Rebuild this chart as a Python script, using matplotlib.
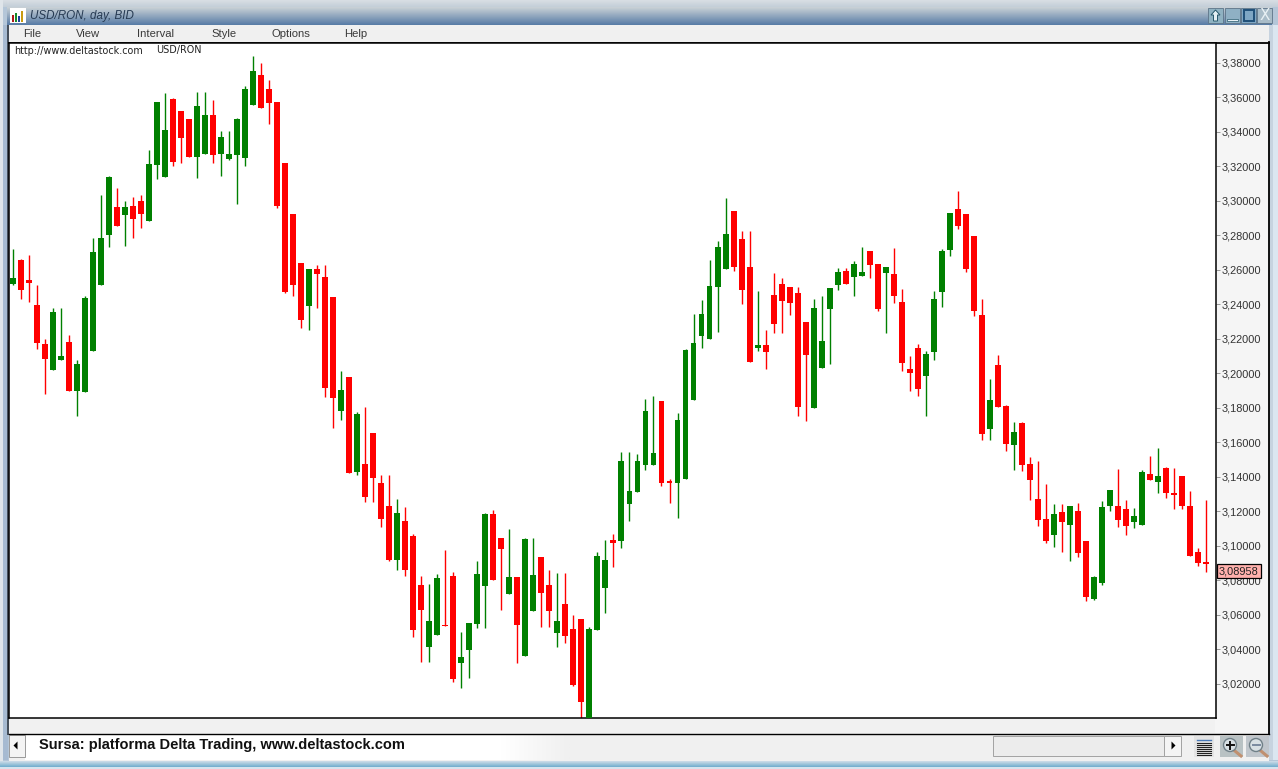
import numpy as np
import matplotlib
matplotlib.use("Agg")
import matplotlib.pyplot as plt
from matplotlib.patches import Rectangle, Polygon, Circle

# USD/RON daily candles
opens = [
    3.2517, 3.2656, 3.2540, 3.2395, 3.2169, 3.2019, 3.2077, 3.2181, 3.1897, 3.1891,
    3.2129, 3.2511, 3.2801, 3.2963, 3.2917, 3.2969, 3.2998, 3.2882, 3.3206, 3.3137,
    3.3589, 3.3519, 3.3473, 3.3253, 3.3270, 3.3496, 3.3270, 3.3241, 3.3264, 3.3247,
    3.3554, 3.3728, 3.3647, 3.3571, 3.3218, 3.2922, 3.2639, 3.2390, 3.2604, 3.2558,
    3.2442, 3.1781, 3.1978, 3.1428, 3.1474, 3.1654, 3.1364, 3.1231, 3.0918, 3.1144,
    3.1057, 3.0773, 3.0414, 3.0484, 3.0542, 3.0826, 3.0322, 3.0397, 3.0548, 3.0768,
    3.1185, 3.1046, 3.0721, 3.0820, 3.0362, 3.0623, 3.0936, 3.0773, 3.0495, 3.0663,
    3.0519, 3.0576, 2.9986, 3.0513, 3.0756, 3.1034, 3.1028, 3.1243, 3.1312, 3.1469,
    3.1469, 3.1839, 3.1376, 3.1364, 3.1387, 3.1845, 3.2216, 3.2198, 3.2500, 3.2604,
    3.2940, 3.2778, 3.2615, 3.2146, 3.2164, 3.2453, 3.2517, 3.2500, 3.2465, 3.2297,
    3.1799, 3.2030, 3.2372, 3.2511, 3.2592, 3.2558, 3.2563, 3.2708, 3.2633, 3.2581,
    3.2575, 3.2413, 3.2025, 3.2146, 3.1984, 3.2123, 3.2471, 3.2714, 3.2951, 3.2922,
    3.2795, 3.2337, 3.1677, 3.2048, 3.1810, 3.1584, 3.1712, 3.1474, 3.1272, 3.1156,
    3.1063, 3.1196, 3.1121, 3.1202, 3.1028, 3.0692, 3.0785, 3.1231, 3.1231, 3.1214,
    3.1138, 3.1121, 3.1416, 3.1370, 3.1451, 3.1306, 3.1405, 3.1231, 3.0965, 3.0907,
]
highs = [
    3.2720, 3.2662, 3.2685, 3.2511, 3.2198, 3.2378, 3.2378, 3.2222, 3.2077, 3.2447,
    3.2783, 3.3033, 3.3140, 3.3073, 3.2998, 3.3021, 3.3033, 3.3293, 3.3571, 3.3623,
    3.3595, 3.3519, 3.3473, 3.3629, 3.3629, 3.3583, 3.3403, 3.3403, 3.3479, 3.3664,
    3.3838, 3.3797, 3.3699, 3.3571, 3.3218, 3.2922, 3.2639, 3.2604, 3.2627, 3.2627,
    3.2442, 3.2013, 3.1978, 3.1776, 3.1804, 3.1654, 3.1411, 3.1411, 3.1272, 3.1225,
    3.1069, 3.0826, 3.0779, 3.0837, 3.0976, 3.0849, 3.0501, 3.0553, 3.0912, 3.1191,
    3.1208, 3.1046, 3.1098, 3.0820, 3.1046, 3.1046, 3.0936, 3.0860, 3.0843, 3.0843,
    3.0600, 3.0576, 3.0530, 3.0965, 3.1034, 3.1069, 3.1544, 3.1544, 3.1532, 3.1851,
    3.1868, 3.1839, 3.1387, 3.1770, 3.2140, 3.2343, 3.2424, 3.2656, 3.2766, 3.3015,
    3.2940, 3.2824, 3.2824, 3.2476, 3.2251, 3.2581, 3.2552, 3.2500, 3.2500, 3.2297,
    3.2430, 3.2447, 3.2494, 3.2610, 3.2610, 3.2650, 3.2731, 3.2708, 3.2633, 3.2615,
    3.2725, 3.2488, 3.2100, 3.2169, 3.2129, 3.2476, 3.2720, 3.2928, 3.3056, 3.2922,
    3.2795, 3.2430, 3.1967, 3.2106, 3.1816, 3.1718, 3.1718, 3.1515, 3.1492, 3.1358,
    3.1243, 3.1243, 3.1231, 3.1249, 3.1028, 3.0826, 3.1260, 3.1324, 3.1445, 3.1266,
    3.1220, 3.1440, 3.1521, 3.1567, 3.1457, 3.1451, 3.1405, 3.1318, 3.0988, 3.1266,
]
lows = [
    3.2511, 3.2430, 3.2413, 3.2140, 3.1880, 3.2019, 3.2077, 3.1897, 3.1752, 3.1891,
    3.2129, 3.2511, 3.2731, 3.2853, 3.2737, 3.2783, 3.2841, 3.2882, 3.3125, 3.3137,
    3.3200, 3.3218, 3.3253, 3.3131, 3.3270, 3.3218, 3.3143, 3.3235, 3.2980, 3.3200,
    3.3554, 3.3536, 3.3444, 3.2957, 3.2465, 3.2447, 3.2262, 3.2251, 3.2378, 3.1862,
    3.1683, 3.1729, 3.1422, 3.1411, 3.1254, 3.1254, 3.1109, 3.0912, 3.0860, 3.0826,
    3.0472, 3.0327, 3.0327, 3.0484, 3.0536, 3.0212, 3.0177, 3.0235, 3.0524, 3.0524,
    3.0802, 3.0629, 3.0721, 3.0322, 3.0362, 3.0623, 3.0530, 3.0530, 3.0414, 3.0437,
    3.0188, 2.9986, 2.9986, 3.0513, 3.0611, 3.0878, 3.0988, 3.1144, 3.1312, 3.1440,
    3.1469, 3.1347, 3.1249, 3.1162, 3.1387, 3.1845, 3.2146, 3.2198, 3.2239, 3.2604,
    3.2592, 3.2401, 3.2065, 3.2129, 3.2025, 3.2233, 3.2233, 3.2337, 3.1752, 3.1723,
    3.1799, 3.2030, 3.2054, 3.2482, 3.2517, 3.2447, 3.2563, 3.2552, 3.2361, 3.2233,
    3.2407, 3.2013, 3.1897, 3.1868, 3.1752, 3.2077, 3.2384, 3.2679, 3.2836, 3.2586,
    3.2332, 3.1613, 3.1613, 3.1804, 3.1550, 3.1440, 3.1434, 3.1266, 3.1115, 3.1017,
    3.0994, 3.0965, 3.0912, 3.0936, 3.0681, 3.0687, 3.0773, 3.1202, 3.1109, 3.1063,
    3.1104, 3.1121, 3.1382, 3.1306, 3.1277, 3.1214, 3.1214, 3.0941, 3.0884, 3.0849,
]
closes = [
    3.2552, 3.2482, 3.2523, 3.2175, 3.2083, 3.2355, 3.2100, 3.1897, 3.2054, 3.2436,
    3.2702, 3.2783, 3.3137, 3.2853, 3.2963, 3.2893, 3.2922, 3.3212, 3.3571, 3.3409,
    3.3224, 3.3363, 3.3253, 3.3548, 3.3496, 3.3264, 3.3368, 3.3270, 3.3473, 3.3647,
    3.3751, 3.3536, 3.3565, 3.2969, 3.2471, 3.2511, 3.2308, 3.2604, 3.2575, 3.1915,
    3.1857, 3.1903, 3.1422, 3.1764, 3.1283, 3.1393, 3.1156, 3.0918, 3.1191, 3.0860,
    3.0513, 3.0629, 3.0565, 3.0814, 3.0536, 3.0229, 3.0356, 3.0553, 3.0837, 3.1185,
    3.0802, 3.0982, 3.0820, 3.0542, 3.1040, 3.0831, 3.0727, 3.0623, 3.0565, 3.0478,
    3.0194, 3.0096, 3.0519, 3.0941, 3.0918, 3.1017, 3.1492, 3.1318, 3.1492, 3.1781,
    3.1538, 3.1364, 3.1364, 3.1729, 3.2135, 3.2175, 3.2343, 3.2505, 3.2731, 3.2807,
    3.2615, 3.2482, 3.2065, 3.2164, 3.2123, 3.2285, 3.2418, 3.2407, 3.1804, 3.2106,
    3.2378, 3.2187, 3.2494, 3.2586, 3.2517, 3.2633, 3.2586, 3.2627, 3.2372, 3.2615,
    3.2447, 3.2059, 3.2001, 3.1909, 3.2111, 3.2430, 3.2708, 3.2928, 3.2853, 3.2604,
    3.2361, 3.1648, 3.1845, 3.1804, 3.1590, 3.1660, 3.1469, 3.1382, 3.1150, 3.1028,
    3.1185, 3.1138, 3.1231, 3.0959, 3.0704, 3.0820, 3.1225, 3.1324, 3.1150, 3.1115,
    3.1173, 3.1428, 3.1382, 3.1405, 3.1306, 3.1295, 3.1231, 3.0941, 3.0901, 3.08958,
]
tick_values = [3.02, 3.04, 3.06, 3.08, 3.10, 3.12, 3.14, 3.16, 3.18, 3.20,
               3.22, 3.24, 3.26, 3.28, 3.30, 3.32, 3.34, 3.36, 3.38]
tick_labels = ["3,02000", "3,04000", "3,06000", "3,08000", "3,10000", "3,12000", "3,14000",
               "3,16000", "3,18000", "3,20000", "3,22000", "3,24000", "3,26000", "3,28000",
               "3,30000", "3,32000", "3,34000", "3,36000", "3,38000"]
last_price = "3,08958"
menu_items = ["File", "View", "Interval", "Style", "Options", "Help"]
menu_x = [23, 76, 137, 211, 272, 344]

W, H = 1278, 769
fig = plt.figure(figsize=(W / 100, H / 100), dpi=100)

# --- window chrome, drawn in pixel coordinates ---
bg = fig.add_axes([0, 0, 1, 1], zorder=0)
bg.set_axis_off()


def box(x0, y0, x1, y1, color, ec="none", lw=0, z=1):
    bg.add_patch(Rectangle((x0, y0), x1 - x0, y1 - y0, facecolor=color, edgecolor=ec, linewidth=lw, zorder=z))


def gradient(x0, y0, x1, y1, start, end, z=1, horizontal=False):
    c0 = np.array(matplotlib.colors.to_rgb(start))
    c1 = np.array(matplotlib.colors.to_rgb(end))
    t = np.linspace(0, 1, 32)
    t = t[None, :, None] if horizontal else t[:, None, None]
    bg.imshow(c0 + (c1 - c0) * t, extent=(x0, x1, y1, y0), aspect="auto", zorder=z, interpolation="bilinear")


box(0, 0, W, H, "#b4c6d8", z=0)
gradient(0, 0, W, 7, "#d9dfe4", "#c3ced8")
gradient(7, 7, 1272, 25, "#c9d1d6", "#587ca6", z=1)
box(0, 0, 3, H, "#dfe5ea")
box(3, 25, 8, 760, "#a6bad1")
box(7, 25, 9, 735, "#46505c")
box(1269, 25, 1273, 760, "#c7d3df")
box(1273, 25, W, 760, "#dbe6f0")
box(9, 25, 1269, 42, "#f0f0f0")
box(9, 42, 1269, 735, "#f5f5f5")
box(9, 718, 1215, 733, "#f1f1f1")
box(9, 734, 1269, 761, "#f0f0f0")
box(25, 735, 500, 760, "#ffffff")
gradient(500, 735, 570, 760, "#ffffff", "#f0f0f0", horizontal=True)
gradient(0, 761, W, 769, "#cfdde8", "#4f9dc4")
box(0, 767, W, H, "#d6e4ee")

# frame lines
bg.plot([9, 1269], [733.5, 733.5], color="black", lw=1.0, zorder=3)
bg.plot([1268.5, 1268.5], [42, 734], color="black", lw=1.3, zorder=3)
bg.plot([9, 1269], [42.8, 42.8], color="black", lw=1.3, zorder=3)

# title bar
box(10, 8, 26, 23, "#ffffff", z=2)
for bx, by, col in [(12, 15, "#b01818"), (15, 13, "#1a8a2a"), (18, 16, "#1f3f9a"), (21, 11, "#c89a10")]:
    box(bx, by, bx + 2.4, 22, col, z=3)
bg.text(30, 15.5, "USD/RON, day, BID", fontsize=8.4, style="italic", family="Liberation Sans",
        color="#263a52", va="center", ha="left", zorder=4)
for bx, col in [(1208, "#8fb2c2"), (1225, "#8fb0c4"), (1241, "#7ea6c4"), (1257, "#a9bcc8")]:
    box(bx, 8, bx + 15, 23, col, ec="#5d7488", lw=0.6, z=3)
bg.add_patch(Polygon([(1215.5, 10), (1220, 15), (1217.5, 15), (1217.5, 21), (1213.5, 21), (1213.5, 15), (1211, 15)],
                     facecolor="#e4f0f4", edgecolor="#27586c", linewidth=0.7, zorder=4))
box(1227, 18.5, 1238, 21, "#e6f0f5", ec="#27586c", lw=0.5, z=4)
box(1243.5, 10, 1254, 20.5, "none", ec="#1f4f78", lw=1.4, z=4)
bg.text(1264.5, 15.5, "X", fontsize=11, family="DejaVu Sans", color="#e8f0f4", va="center", ha="center", zorder=4)

for name, mx in zip(menu_items, menu_x):
    bg.text(mx, 34, name, fontsize=8.1, family="Liberation Sans", color="#3a3a3a", va="center", ha="left", zorder=4)

# bottom bar: arrows, scroll thumb, zoom buttons
box(9, 735, 25, 757, "#f4f4f4", ec="#9a9a9a", lw=0.7, z=2)
bg.add_patch(Polygon([(13.5, 745.5), (17.5, 741.5), (17.5, 749.5)], facecolor="black", zorder=4))
box(993, 736, 1164, 756, "#ececec", ec="#a2a2a2", lw=0.7, z=2)
box(1164, 736, 1181, 756, "#f4f4f4", ec="#a2a2a2", lw=0.7, z=2)
bg.add_patch(Polygon([(1175.5, 745.5), (1171.5, 741.5), (1171.5, 749.5)], facecolor="black", zorder=4))
box(1194, 736, 1214, 757, "#e4e4e4", z=2)
for ly in [743, 745, 747, 749, 751, 753, 755]:
    bg.plot([1197, 1211], [ly, ly], color="#202020", lw=0.8, zorder=3)
bg.plot([1197, 1211], [740, 740], color="#4a7ab8", lw=1.0, zorder=3)
box(1220, 736, 1243, 757, "#b9c2c4", z=2)
box(1246, 736, 1269, 757, "#c0c6cc", z=2)
for cx, sign_col in [(1230, "#111111"), (1256, "#7a8aa0")]:
    bg.plot([cx + 5, cx + 11], [751, 756], color="#c09070", lw=2.2, zorder=3)
    bg.add_patch(Circle((cx, 745), 6.5, facecolor="#d8e0e4", edgecolor="#708088", linewidth=1.0, zorder=4))
    bg.plot([cx - 3.5, cx + 3.5], [745, 745], color=sign_col, lw=1.4, zorder=5)
bg.plot([1230, 1230], [741.5, 748.5], color="#111111", lw=1.4, zorder=5)
bg.text(39, 749.5, "Sursa: platforma Delta Trading, www.deltastock.com", fontsize=10.5, fontweight="bold",
        family="Liberation Sans", color="#111111", va="baseline", ha="left", zorder=4)

bg.set_xlim(0, W)
bg.set_ylim(H, 0)

# --- candle chart ---
left, right, top, bottom = 9.0, 1215.5, 43.0, 718.0
ax = fig.add_axes([left / W, 1 - bottom / H, (right - left) / W, (bottom - top) / H], zorder=2)
ax.set_facecolor("white")

x = np.arange(len(closes))
o = np.array(opens)
c = np.array(closes)
hi = np.array(highs)
lo = np.array(lows)
up = c >= o
colors = np.where(up, "#008000", "#ff0000")

ax.vlines(x, lo, hi, colors=colors, linewidth=1.0, zorder=2)
ax.bar(x, np.maximum(np.abs(c - o), 0.0008), bottom=np.minimum(o, c), width=0.74, color=colors,
       linewidth=0, zorder=3)

ax.set_xlim(-0.49, 150.19)
ax.set_ylim(3.0003, 3.3913)
ax.set_xticks([])
ax.set_yticks(tick_values)
ax.set_yticklabels(tick_labels, fontsize=7.9, family="Liberation Sans", color="#333333")
ax.yaxis.tick_right()
ax.tick_params(axis="y", length=3, width=0.6, color="#888888", pad=1.5)
for side in ["top", "left", "bottom", "right"]:
    ax.spines[side].set_color("black")
    ax.spines[side].set_linewidth(1.1)

ax.text(14, 53.5, "http://www.deltastock.com", transform=bg.transData, fontsize=6.9,
        family="DejaVu Sans", color="#222222", va="baseline", ha="left", zorder=6)
ax.text(156, 53.5, "USD/RON", transform=bg.transData, fontsize=6.9, family="DejaVu Sans",
        color="#222222", va="baseline", ha="left", zorder=6)

# last price flag on the scale, sits a little under the close as in the platform
ax.text(1239, 571, last_price, transform=bg.transData, fontsize=7.9, family="Liberation Sans",
        color="#222222", va="center", ha="center", zorder=8, clip_on=False,
        bbox=dict(boxstyle="square,pad=0.18", facecolor="#ffb0ac", edgecolor="black", linewidth=0.9))

fig.savefig("out.png", dpi=100)
